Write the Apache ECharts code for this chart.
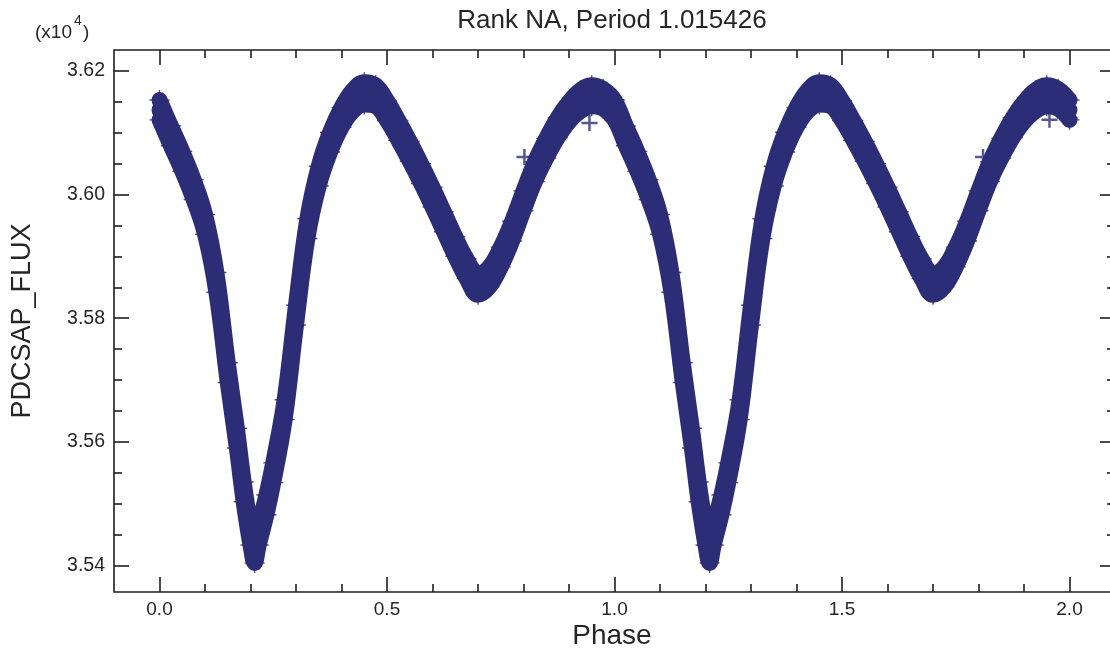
<!DOCTYPE html>
<html><head><meta charset="utf-8">
<script src="https://cdn.jsdelivr.net/npm/echarts@6/dist/echarts.min.js"></script>
<style>html,body{margin:0;padding:0;background:#fff}#c{width:1110px;height:654px}</style>
</head><body><div id="c"></div>
<script>
// One folded cycle of the light curve (phase 0..1); it is drawn twice (phase and phase+1)
const phase = [0,0.025,0.05,0.075,0.1,0.125,0.15,0.17,0.185,0.2,0.209,0.218,0.235,0.25,0.275,0.3,0.325,0.35,0.375,0.4,0.425,0.45,0.475,0.5,0.525,0.55,0.575,0.6,0.625,0.65,0.675,0.7,0.725,0.75,0.775,0.8,0.825,0.85,0.875,0.9,0.925,0.95,0.975,1.0];
const fluxMid = [36137,36095,36054,36008,35952,35858,35712,35606,35519,35449,35422,35449,35498,35550,35652,35805,35945,36030,36085,36125,36152,36164,36160,36136,36104,36070,36034,35996,35956,35916,35880,35855,35867,35899,35941,35990,36037,36075,36108,36134,36152,36160,36155,36137];
const fluxTop = [36153,36111,36070,36024,35968,35874,35728,35622,35535,35465,35438,35465,35514,35566,35668,35821,35961,36046,36101,36141,36169,36182,36177,36152,36120,36086,36050,36012,35972,35932,35896,35872,35883,35915,35957,36006,36053,36091,36124,36150,36169,36177,36171,36153];
const fluxBottom = [36121,36079,36038,35992,35936,35842,35696,35590,35503,35433,35404,35433,35482,35534,35636,35789,35929,36014,36069,36109,36135,36146,36143,36120,36088,36054,36018,35980,35940,35900,35864,35838,35851,35883,35925,35974,36021,36059,36092,36118,36135,36143,36139,36121];
const cycles = [0, 1];
// isolated points standing out of the band
const outlierPhase = [0.802, 0.945, 1.81, 1.956, 2.0];
const outlierFlux = [36061, 36116, 36061, 36121, 36123];
// ticks
const xMajorTicks = [0, 0.5, 1, 1.5, 2];
const xMinorTicks = [0.1,0.2,0.3,0.4,0.6,0.7,0.8,0.9,1.1,1.2,1.3,1.4,1.6,1.7,1.8,1.9];
const yMajorTicks = [35400, 35600, 35800, 36000, 36200];
const yMinorTicks = [35450,35500,35550,35650,35700,35750,35850,35900,35950,36050,36100,36150];
const titleText = 'Rank NA, Period 1.015426';
const xName = 'Phase';
const yName = 'PDCSAP_FLUX';

const FONT = '"Liberation Sans", Arial, Helvetica, sans-serif';
const INK = '#2b2e76';
const EDGE = '#23255f';
const AXC = '#1e1e1e';
const TXT = '#262626';
const PLUS = 'path://M0,6.75H16V9.25H0Z M6.75,0H9.25V16H6.75Z';
const THINPLUS = 'path://M0,9.3H20V10.7H0Z M9.3,0H10.7V20H9.3Z';

function folded(values) {
  const out = [];
  cycles.forEach(k => phase.forEach((p, i) => out.push([p + k, values[i]])));
  return out;
}

function xAx(pos, ticks, len, labels) {
  return {
    type: 'value', position: pos, min: -0.1, max: 2.1,
    axisLine: { show: false, onZero: false },
    splitLine: { show: false },
    axisTick: { show: true, inside: true, length: len, customValues: ticks, lineStyle: { color: AXC, width: 1.6 } },
    axisLabel: labels ? { show: true, customValues: ticks, margin: 8, fontSize: 19, fontFamily: FONT, color: TXT,
      formatter: v => Number(v).toFixed(1) } : { show: false }
  };
}
function yAx(pos, ticks, len, labels) {
  return {
    type: 'value', position: pos, min: 35357, max: 36234, scale: true,
    axisLine: { show: false, onZero: false },
    splitLine: { show: false },
    axisTick: { show: true, inside: true, length: len, customValues: ticks, lineStyle: { color: AXC, width: 1.6 } },
    axisLabel: labels ? { show: true, customValues: ticks, margin: 9, fontSize: 19.5, fontFamily: FONT, color: TXT,
      formatter: v => (v / 10000).toFixed(2) } : { show: false }
  };
}

const bandLine = (name, vals) => ({
  name, type: 'line', data: folded(vals), xAxisIndex: 0, yAxisIndex: 0,
  showSymbol: false, symbol: 'none', smooth: 0.4, silent: true,
  lineStyle: { color: INK, width: 16, cap: 'round', join: 'round' }
});
const edgeMarks = (name, vals) => ({
  name, type: 'scatter', data: folded(vals), xAxisIndex: 0, yAxisIndex: 0,
  symbol: THINPLUS, symbolSize: 20, silent: true, itemStyle: { color: EDGE }
});

const chart = echarts.init(document.getElementById('c'), null, { renderer: 'canvas' });
chart.setOption({
  animation: false,
  backgroundColor: '#ffffff',
  grid: { left: 114, top: 50, width: 1001, height: 542, show: true, borderColor: AXC, borderWidth: 1.6,
    containLabel: false, outerBoundsMode: 'none' },
  xAxis: [
    xAx('bottom', xMajorTicks, 15, true),
    xAx('bottom', xMinorTicks, 8, false),
    xAx('top', xMajorTicks, 15, false),
    xAx('top', xMinorTicks, 8, false)
  ],
  yAxis: [
    yAx('left', yMajorTicks, 15, true),
    yAx('left', yMinorTicks, 8, false),
    yAx('right', yMajorTicks, 15, false),
    yAx('right', yMinorTicks, 8, false)
  ],
  series: [
    edgeMarks('topMarks', fluxTop),
    edgeMarks('bottomMarks', fluxBottom),
    bandLine('top', fluxTop),
    bandLine('bottom', fluxBottom),
    bandLine('mid', fluxMid),
    {
      name: 'outliers', type: 'scatter', xAxisIndex: 0, yAxisIndex: 0,
      data: outlierPhase.map((p, i) => [p, outlierFlux[i]]),
      symbol: PLUS, symbolSize: 16, itemStyle: { color: INK }, silent: true
    }
  ],
  graphic: [
    { type: 'text', x: 612, y: 21, style: { text: titleText, fontSize: 26, fontFamily: FONT, fill: TXT, align: 'center', verticalAlign: 'middle' } },
    { type: 'text', x: 612, y: 636, style: { text: xName, fontSize: 28, fontFamily: FONT, fill: TXT, align: 'center', verticalAlign: 'middle' } },
    { type: 'text', x: 23, y: 321, rotation: Math.PI / 2, style: { text: yName, fontSize: 27, fontFamily: FONT, fill: TXT, align: 'center', verticalAlign: 'middle' } },
    { type: 'text', x: 35, y: 33, style: { text: '(x10', fontSize: 19, fontFamily: FONT, fill: TXT, align: 'left', verticalAlign: 'middle' } },
    { type: 'text', x: 74, y: 21, style: { text: '4', fontSize: 14, fontFamily: FONT, fill: TXT, align: 'left', verticalAlign: 'middle' } },
    { type: 'text', x: 83, y: 33, style: { text: ')', fontSize: 19, fontFamily: FONT, fill: TXT, align: 'left', verticalAlign: 'middle' } }
  ]
});
</script>
</body></html>
